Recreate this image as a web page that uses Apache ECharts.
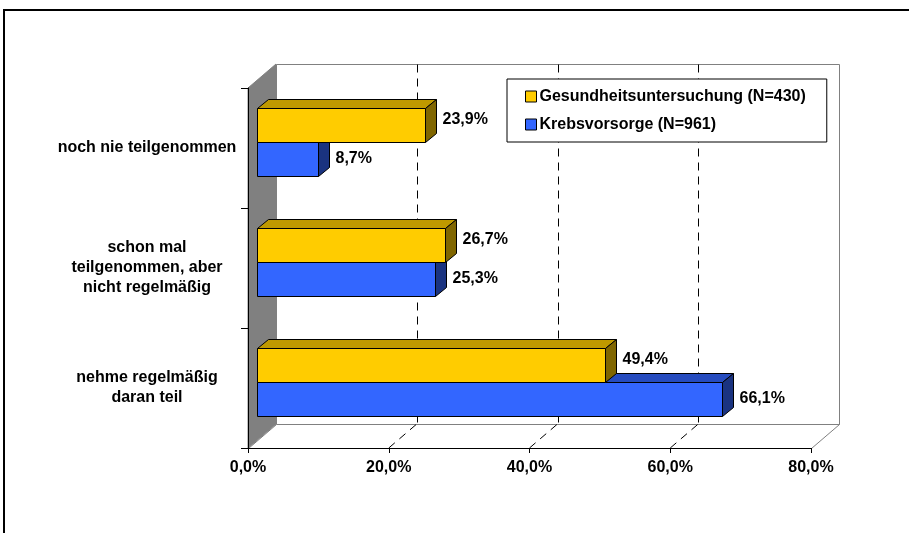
<!DOCTYPE html>
<html><head><meta charset="utf-8">
<script src="https://cdn.jsdelivr.net/npm/echarts@6/dist/echarts.min.js"></script>
<style>html,body{margin:0;padding:0;background:#fff}#c{width:909px;height:533px}</style>
</head><body><div id="c"></div>
<script>
// ---- data ----
const categories = ['noch nie teilgenommen', 'schon mal\nteilgenommen, aber\nnicht regelmäßig', 'nehme regelmäßig\ndaran teil'];
const seriesNames = ['Gesundheitsuntersuchung (N=430)', 'Krebsvorsorge (N=961)'];
const gesundheitValues = [23.9, 26.7, 49.4];
const krebsValues = [8.7, 25.3, 66.1];
const xTickValues = [0, 20, 40, 60, 80];
const gridTickValues = [20, 40, 60];

// ---- style / geometry ----
const FONT = '"Liberation Sans", Arial, sans-serif';
const WALL_DX = 28, WALL_DY = -24;
const BAR_OFF_X = 9, BAR_OFF_Y = -8;
const BAR_DX = 11, BAR_DY = -9;
const BAR_H = 34, BAR_SHIFT = 2;
const yellow = {front: '#FFCC00', top: '#BF9900', side: '#806600', labelDy: -5.5};
const blue = {front: '#3366FF', top: '#264CBF', side: '#1A3380', labelDy: -1};

function fmt(v) { return v.toFixed(1).replace('.', ',') + '%'; }
function r(v) { return Math.round(v) + 0.5; }

function renderWalls(params, api) {
  const cs = params.coordSys;
  const x0 = cs.x, y0 = cs.y, w = cs.width, h = cs.height;
  const yB = y0 + h;
  const els = [];
  // back wall
  els.push({type: 'rect', shape: {x: r(x0 + WALL_DX), y: r(y0 + WALL_DY), width: Math.round(w), height: Math.round(h)},
    style: {fill: '#fff', stroke: '#808080', lineWidth: 1}});
  // floor
  els.push({type: 'polygon', shape: {points: [[r(x0), r(yB)], [r(x0 + w), r(yB)], [r(x0 + w + WALL_DX), r(yB + WALL_DY)], [r(x0 + WALL_DX), r(yB + WALL_DY)]]},
    style: {fill: '#fff', stroke: '#808080', lineWidth: 1}});
  // left wall
  els.push({type: 'polygon', shape: {points: [[x0, yB], [x0, y0], [x0 + WALL_DX, y0 + WALL_DY], [x0 + WALL_DX, yB + WALL_DY]]},
    style: {fill: '#808080', stroke: '#808080', lineWidth: 1}});
  gridTickValues.forEach(function (t) {
    const px = api.coord([t, 0])[0];
    els.push({type: 'line', shape: {x1: r(px + WALL_DX), y1: r(y0 + WALL_DY), x2: r(px + WALL_DX), y2: r(yB + WALL_DY)},
      style: {stroke: '#000', lineWidth: 1, lineDash: [8, 6]}});
    els.push({type: 'line', shape: {x1: px, y1: yB, x2: px + WALL_DX, y2: yB + WALL_DY},
      style: {stroke: '#000', lineWidth: 1, lineDash: [8, 6]}});
  });
  return {type: 'group', children: els};
}

function makeBarRender(col, upper) {
  return function (params, api) {
    const v = api.value(0), c = api.value(1);
    const p0 = api.coord([0, c]);
    const p1 = api.coord([v, c]);
    const yc = Math.round(p0[1] + BAR_SHIFT + BAR_OFF_Y);
    const yt = (upper ? yc - BAR_H : yc) + 0.5;
    const yb = yt + BAR_H;
    const xl = Math.round(p0[0] + BAR_OFF_X) + 0.5;
    const xr = Math.round(p1[0] + BAR_OFF_X) + 0.5;
    const st = {stroke: '#000', lineWidth: 1};
    return {type: 'group', children: [
      {type: 'polygon', shape: {points: [[xl, yt], [xr, yt], [xr + BAR_DX, yt + BAR_DY], [xl + BAR_DX, yt + BAR_DY]]},
        style: Object.assign({fill: col.top}, st)},
      {type: 'polygon', shape: {points: [[xr, yt], [xr + BAR_DX, yt + BAR_DY], [xr + BAR_DX, yb + BAR_DY], [xr, yb]]},
        style: Object.assign({fill: col.side}, st)},
      {type: 'rect', shape: {x: xl, y: yt, width: xr - xl, height: BAR_H},
        style: Object.assign({fill: col.front}, st)},
      {type: 'text', style: {text: fmt(v), x: xr + BAR_DX + 6, y: (yt + yb) / 2 + col.labelDy,
        align: 'left', verticalAlign: 'middle', fontSize: 16, fontWeight: 'bold', fontFamily: FONT, fill: '#000'}}
    ]};
  };
}

const chart = echarts.init(document.getElementById('c'), null, {renderer: 'canvas'});
chart.setOption({
  animation: false,
  backgroundColor: '#fff',
  graphic: [{type: 'rect', shape: {x: 4, y: 10, width: 1200, height: 1200}, style: {fill: 'none', stroke: '#000', lineWidth: 2}, z: 100}],
  grid: {left: 248, top: 88, right: 98, bottom: 85},
  legend: {
    data: seriesNames,
    orient: 'vertical',
    left: 507, top: 79,
    padding: [9, 21, 9, 18],
    itemGap: 11,
    itemWidth: 11, itemHeight: 11,
    icon: 'rect',
    backgroundColor: '#fff',
    borderColor: '#000', borderWidth: 1,
    itemStyle: {borderColor: '#000', borderWidth: 1},
    textStyle: {fontSize: 16, fontWeight: 'bold', fontFamily: FONT, color: '#000', padding: [0, 0, 0, -2], lineHeight: 17},
    z: 20
  },
  xAxis: {
    type: 'value', min: 0, max: 80, interval: 20,
    axisLine: {show: true, lineStyle: {color: '#000', width: 1}},
    axisTick: {show: true, inside: false, length: 5, lineStyle: {color: '#000'}},
    axisLabel: {formatter: fmt, fontSize: 16, fontWeight: 'bold', fontFamily: FONT, color: '#000', margin: 12},
    splitLine: {show: false},
    z: 10
  },
  yAxis: {
    type: 'category', data: categories, inverse: true,
    axisLine: {show: true, lineStyle: {color: '#000', width: 1}},
    axisTick: {show: true, length: 7, lineStyle: {color: '#000'}},
    axisLabel: {fontSize: 16, fontWeight: 'bold', fontFamily: FONT, color: '#000', align: 'center', margin: 101, lineHeight: 20},
    z: 10
  },
  series: [
    {type: 'custom', name: '_walls', renderItem: renderWalls, data: [[0, 0]], z: 0, silent: true},
    {type: 'custom', name: seriesNames[1], renderItem: makeBarRender(blue, false),
      itemStyle: {color: blue.front, borderColor: '#000', borderWidth: 1},
      data: krebsValues.map(function (v, i) { return [v, i]; }), z: 3},
    {type: 'custom', name: seriesNames[0], renderItem: makeBarRender(yellow, true),
      itemStyle: {color: yellow.front, borderColor: '#000', borderWidth: 1},
      data: gesundheitValues.map(function (v, i) { return [v, i]; }), z: 4}
  ]
});
</script></body></html>
